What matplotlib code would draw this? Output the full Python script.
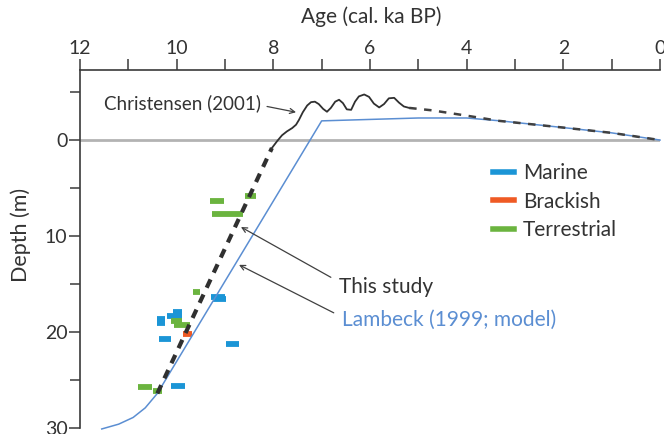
import matplotlib
matplotlib.use("Agg")
import matplotlib.pyplot as plt
from matplotlib.lines import Line2D
from matplotlib.ticker import MultipleLocator

plt.rcParams["font.family"] = ["Lato", "DejaVu Sans"]

# Lambeck (1999) model curve
lambeck_age = [11.55, 11.2, 10.9, 10.65, 10.4, 7.0, 6.0, 5.0, 4.0, 3.3, 2.0, 1.0, 0.0]
lambeck_depth = [30.1, 29.6, 28.9, 27.9, 26.4, -2.0, -2.15, -2.3, -2.3, -2.0, -1.3, -0.75, 0.0]

# This study, lower dashed section
study_age = [10.4, 8.03]
study_depth = [26.4, 0.83]

# Christensen (2001) wavy curve
chris_age = [8.03, 7.92, 7.82, 7.72, 7.61, 7.53, 7.47, 7.39, 7.30, 7.22, 7.14,
             7.06, 6.97, 6.89, 6.81, 6.72, 6.64, 6.56, 6.48, 6.39, 6.31, 6.23,
             6.12, 6.02, 5.92, 5.81, 5.71, 5.61, 5.50, 5.40, 5.30, 5.19]
chris_depth = [0.83, 0.1, -0.5, -0.9, -1.25, -1.6, -2.1, -2.9, -3.6, -3.95, -4.0,
               -3.75, -3.25, -2.95, -3.35, -4.0, -4.2, -3.85, -3.2, -3.15, -4.0, -4.55,
               -4.75, -4.5, -3.8, -3.4, -3.75, -4.35, -4.4, -3.9, -3.5, -3.35]

# upper dashed section towards present
upper_age = [5.19, 4.72, 4.01, 3.33, 2.0, 1.0, 0.0]
upper_depth = [-3.35, -3.1, -2.55, -2.0, -1.3, -0.75, 0.0]

# sample age ranges (old, young) and depth
marine_old = [9.30, 9.25, 10.08, 10.20, 10.41, 10.41, 10.36, 8.98, 10.11]
marine_young = [9.00, 8.98, 9.88, 9.90, 10.24, 10.24, 10.12, 8.72, 9.82]
marine_depth = [16.3, 16.6, 17.9, 18.3, 18.6, 19.1, 20.7, 21.2, 25.6]

brack_old = [9.87]
brack_young = [9.68]
brack_depth = [20.2]

terr_old = [8.58, 9.31, 9.27, 9.67, 10.12, 10.05, 10.80, 10.48]
terr_young = [8.35, 9.03, 8.63, 9.51, 9.88, 9.72, 10.52, 10.30]
terr_depth = [5.8, 6.4, 7.7, 15.8, 18.9, 19.3, 25.7, 26.1]

C_MARINE = "#1b95d6"
C_BRACK = "#ef5a24"
C_TERR = "#6bb43f"
C_MODEL = "#5b8ed2"
C_TEXT = "#333333"

fig = plt.figure(figsize=(6.64, 4.34), dpi=100)
ax = fig.add_axes([80 / 664, 6 / 434, 580 / 664, 358 / 434])

ax.set_xlim(12, 0)
ax.set_ylim(30, -7.3)

# reference line at 0 m
ax.axhline(0, color="#b3b3b3", lw=2.0, zorder=1)

bar_lw = 4.2
ax.hlines(marine_depth, marine_old, marine_young, colors=C_MARINE, lw=bar_lw, zorder=2)
ax.hlines(brack_depth, brack_old, brack_young, colors=C_BRACK, lw=bar_lw, zorder=2)
ax.hlines(terr_depth, terr_old, terr_young, colors=C_TERR, lw=bar_lw, zorder=2)

ax.plot(lambeck_age, lambeck_depth, color=C_MODEL, lw=1.1, zorder=3, clip_on=False)
ax.plot(study_age, study_depth, color="#303030", lw=3.0, ls=(0, (2.2, 1.8)), zorder=4)
ax.plot(chris_age, chris_depth, color="#303030", lw=1.3, zorder=4,
        solid_joinstyle="round")
ax.plot(upper_age, upper_depth, color="#404040", lw=1.8, ls=(0, (3, 3)), zorder=4)

arrow = dict(arrowstyle="->", color="#404040", lw=0.9, shrinkA=0, shrinkB=0,
             mutation_scale=9)
ax.annotate("Christensen (2001)", xy=(11.5, -3.85), ha="left", va="center",
            fontsize=13.5, color=C_TEXT)
ax.annotate("", xy=(7.53, -2.9), xytext=(8.13, -3.5), arrowprops=arrow)
ax.annotate("This study", xy=(6.64, 15.3), ha="left", va="center",
            fontsize=15, color=C_TEXT)
ax.annotate("", xy=(8.67, 9.06), xytext=(6.81, 14.3), arrowprops=arrow)
ax.annotate("Lambeck (1999; model)", xy=(6.58, 18.75), ha="left", va="center",
            fontsize=15, color=C_MODEL)
ax.annotate("", xy=(8.71, 13.0), xytext=(6.75, 18.0), arrowprops=arrow)

handles = [Line2D([], [], color=c, lw=4) for c in (C_MARINE, C_BRACK, C_TERR)]
leg = ax.legend(handles, ["Marine", "Brackish", "Terrestrial"],
                loc="upper left", bbox_to_anchor=(493 / 664, 1 - 163 / 434),
                bbox_transform=fig.transFigure, frameon=False, fontsize=15,
                handlelength=1.0, handletextpad=0.45, labelspacing=0.42,
                borderpad=0, borderaxespad=0)
for t in leg.get_texts():
    t.set_color(C_TEXT)

# axes styling
for side in ("bottom", "right"):
    ax.spines[side].set_visible(False)
for side in ("top", "left"):
    ax.spines[side].set_color("#3a3a3a")
    ax.spines[side].set_linewidth(1.2)

ax.xaxis.tick_top()
ax.xaxis.set_label_position("top")
ax.xaxis.set_major_locator(MultipleLocator(2))
ax.xaxis.set_minor_locator(MultipleLocator(1))
ax.yaxis.set_major_locator(MultipleLocator(10))
ax.yaxis.set_minor_locator(MultipleLocator(5))
ax.tick_params(axis="x", which="both", direction="out", length=8, width=1.1,
               color="#3a3a3a", labelsize=14, labelcolor=C_TEXT, pad=1)
ax.tick_params(axis="y", which="major", direction="out", length=8, width=1.1,
               color="#3a3a3a", labelsize=14, labelcolor=C_TEXT, pad=1)
ax.tick_params(axis="y", which="minor", direction="out", length=7, width=1.1,
               color="#3a3a3a")

ax.set_xlabel("Age (cal. ka BP)", fontsize=15, color=C_TEXT)
ax.xaxis.set_label_coords(0.503, 1.13)
ax.set_ylabel("Depth (m)", fontsize=15.5, color=C_TEXT)
ax.yaxis.set_label_coords(-0.085, 0.54)

fig.savefig("out.png", dpi=100)
